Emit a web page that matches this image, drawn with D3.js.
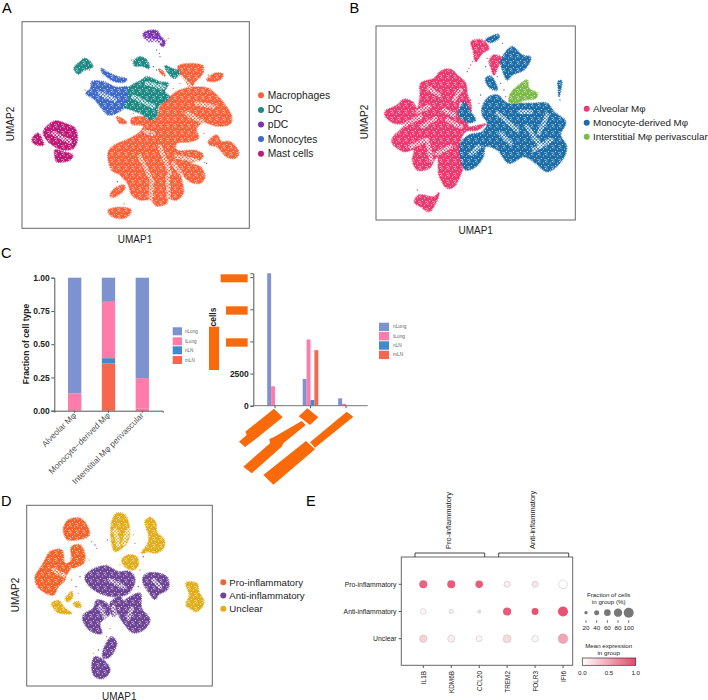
<!DOCTYPE html>
<html><head><meta charset="utf-8">
<script src="https://cdn.jsdelivr.net/npm/d3@7/dist/d3.min.js"></script>
<style>html,body{margin:0;padding:0;background:#fff}svg{display:block}text{font-family:"Liberation Sans",Arial,sans-serif}</style>
</head><body><svg id="c" width="708" height="700"></svg>
<script>
// ---- UMAP A: cluster outlines, in reading units
const macrophagesA=[
 [[535,198],[608,197],[607,222],[585,245],[570,268],[555,240],[540,225]],
 [[620,240],[645,220],[668,222],[665,235],[640,245]],
 [[575,262],[625,265],[650,285],[672,310],[695,350],[690,372],[650,378],[610,368],[590,385],[595,415],[570,425],[530,430],[530,450],[590,452],[610,465],[600,480],[570,490],[600,500],[615,530],[600,550],[570,545],[545,525],[550,580],[530,600],[505,598],[500,610],[470,618],[450,600],[420,600],[395,585],[385,555],[360,525],[335,510],[325,455],[345,435],[390,415],[420,395],[430,378],[395,372],[395,355],[440,350],[470,355],[480,320],[510,290],[535,272]],
 [[625,425],[650,405],[665,425],[690,425],[717,460],[705,475],[680,470],[650,440],[630,435]],
 [[330,585],[345,565],[370,555],[375,565],[355,585],[335,592]],
 [[325,630],[365,622],[393,630],[385,648],[362,656],[330,645]],
 [[350,350],[365,355],[380,368],[360,370]],
 [[476,206],[490,215],[495,228],[482,220]]];
const dcA=[
 [[222,205],[240,185],[255,175],[275,190],[278,200],[250,212],[235,222]],
 [[400,185],[420,170],[440,180],[448,205],[425,198],[405,198]],
 [[495,197],[515,205],[540,215],[525,235],[505,220]],
 [[385,265],[425,240],[440,230],[480,245],[505,250],[495,275],[510,292],[475,320],[470,350],[450,360],[430,345],[395,330],[370,320],[385,300]]];
const pdcA=[[[430,100],[445,92],[470,92],[483,110],[495,125],[490,140],[470,125],[445,125],[432,112]]];
const monocytesA=[
 [[305,205],[320,215],[355,230],[380,237],[375,245],[345,245],[320,230],[305,215]],
 [[275,245],[310,245],[350,262],[385,262],[385,300],[365,330],[325,345],[305,325],[285,300],[258,280],[272,265]]];
const mastA=[
 [[135,385],[165,363],[195,370],[225,385],[232,420],[220,445],[190,450],[165,440],[140,420],[130,400]],
 [[165,450],[190,455],[218,465],[210,480],[170,485],[165,470]],
 [[100,410],[115,400],[125,415],[130,435],[110,435],[97,425]]];
const gapsA=[[[455,540],[452,598]],[[503,530],[506,595]],[[520,490],[545,525]],[[530,470],[590,482]],[[420,470],[450,530]],[[480,440],[510,520]],[[590,310],[640,320]],[[560,340],[610,368]],[[435,395],[460,402]],[[400,290],[460,320]],[[440,250],[490,262]],[[300,280],[345,300]],[[160,400],[210,425]],[[440,120],[480,125]],[[540,230],[570,258]]];
const straysA=[[500,120],[480,170],[478,160],[505,115],[610,215],[625,225],[470,150],[620,490],[640,430],[612,400],[400,340],[345,340],[352,545],[372,612],[268,210],[395,180],[470,210],[460,200],[540,250],[520,265],[255,270],[450,400],[430,402],[615,488]];
const colorsA=["#F9623A","#1F8A84","#7B35B0","#3F6AC8","#C01A78"];
const labelsA=["Macrophages","DC","pDC","Monocytes","Mast cells"];

// ---- UMAP B
const alveolarB=[
 [[93,335],[130,315],[150,298],[175,305],[190,325],[198,285],[200,250],[240,235],[262,212],[290,208],[310,225],[335,250],[340,280],[352,320],[350,335],[320,305],[315,330],[340,370],[345,380],[395,372],[370,390],[335,395],[318,430],[330,480],[325,510],[300,560],[280,565],[255,525],[250,470],[225,505],[190,510],[175,480],[180,450],[150,455],[115,430],[115,415],[150,375],[120,370],[95,350]],
 [[352,125],[385,120],[405,145],[385,160],[365,185],[358,155]],
 [[405,185],[420,165],[450,178],[435,195],[420,225],[410,200]],
 [[182,600],[195,585],[240,590],[255,578],[245,610],[225,635],[200,620],[183,610]]];
const monoDerivedB=[
 [[385,320],[405,290],[430,285],[460,310],[500,310],[540,310],[580,310],[600,335],[635,365],[620,405],[638,440],[625,480],[580,515],[545,490],[510,470],[465,490],[430,450],[395,440],[388,470],[365,500],[335,510],[318,465],[320,430],[345,405],[385,395],[400,370],[385,345]],
 [[330,305],[350,335],[365,360],[345,368],[315,345],[318,325]],
 [[395,120],[432,103],[436,112],[410,128]],
 [[460,150],[475,140],[505,165],[530,172],[515,205],[500,215],[475,225],[460,240],[445,210],[440,185]],
 [[395,235],[410,228],[425,250],[430,270],[415,268],[400,255]],
 [[612,245],[622,242],[622,262],[615,290],[613,265]]];
const interstitialB=[[[470,280],[495,255],[520,240],[525,265],[550,280],[545,295],[515,300],[480,310],[465,305]]];
const gapsB=[[[225,265],[255,285]],[[190,335],[225,320]],[[205,380],[245,355]],[[150,375],[200,350]],[[220,420],[232,480]],[[170,440],[215,420]],[[280,360],[320,380]],[[270,330],[300,345]],[[250,460],[290,440]],[[500,335],[530,335]],[[520,380],[560,440]],[[440,400],[470,430]],[[580,345],[555,400]],[[352,460],[375,440]],[[300,300],[320,270]],[[430,340],[490,390]],[[590,420],[540,450]]];
const straysB=[[345,205],[340,215],[350,300],[450,270],[455,290],[380,285],[375,310],[440,250],[190,570],[430,230],[400,175],[618,300],[520,180],[395,200],[355,185],[445,130],[350,195]];
const colorsB=["#EC3A70","#1D6EA8","#7DBB47"];
const labelsB=["Alveolar Mφ","Monocyte-derived Mφ","Interstitial Mφ perivascular"];

// ---- UMAP D
const proD=[
 [[190,145],[205,120],[240,115],[260,135],[268,165],[240,178],[205,180],[195,170]],
 [[105,290],[120,265],[135,240],[150,215],[185,210],[195,250],[210,245],[215,200],[240,195],[255,225],[250,250],[220,265],[205,275],[195,300],[175,320],[160,345],[130,335],[110,315]]];
const antiD=[
 [[255,290],[285,265],[320,258],[355,275],[390,275],[405,300],[385,340],[340,350],[300,340],[265,315]],
 [[430,290],[450,278],[500,290],[505,325],[475,345],[465,358],[445,335],[430,310]],
 [[360,375],[420,340],[425,385],[450,420],[430,450],[400,458],[375,435],[355,400]],
 [[250,405],[280,385],[290,360],[320,370],[330,400],[300,430],[305,460],[275,455],[250,425]],
 [[330,370],[360,350],[370,370],[340,410]],
 [[310,510],[335,470],[350,490],[330,530],[310,535]],
 [[275,560],[285,530],[310,540],[330,570],[310,595],[285,590]]];
const unclearD=[
 [[335,125],[350,100],[375,105],[388,140],[385,180],[365,205],[345,215],[335,190]],
 [[435,125],[450,112],[468,130],[470,155],[493,180],[490,205],[465,220],[445,215],[425,220],[445,185],[445,160]],
 [[365,240],[385,225],[410,230],[415,255],[400,270],[375,260]],
 [[155,370],[175,362],[195,385],[215,400],[175,398],[165,390]],
 [[195,358],[215,335],[218,350],[205,365]],
 [[220,370],[235,365],[243,380],[230,382]],
 [[558,308],[590,310],[597,335],[612,368],[590,395],[570,385],[558,375],[568,345]]];
const gapsD=[[[215,270],[225,320]],[[160,270],[200,290]],[[200,200],[210,235]],[[385,150],[370,190]],[[395,385],[385,415]],[[300,380],[320,420]],[[340,380],[350,430]],[[330,300],[370,320]],[[460,300],[480,320]],[[345,150],[355,195]]];
const straysD=[[275,185],[285,195],[268,240],[290,205],[322,180],[400,165],[405,190],[430,230],[360,255],[320,255],[240,290],[235,340],[320,470],[295,510],[280,520],[215,300],[228,320],[440,150],[420,270],[415,320],[345,370],[330,445]];
const colorsD=["#F4632A","#6E4596","#E2AE1B"];
const labelsD=["Pro-inflammatory","Anti-inflammatory","Unclear"];

// ---- Panel C bars
const cellTypes=["Alveolar Mφ","Monocyte−derived Mφ","Interstitial Mφ perivascular"];
const tissues=["nLung","tLung","nLN","mLN"];
const tissueColors=["#7D92CF","#FF7BAA","#3F8BCB","#F9664F"];
const fracNLung=[0.87,0.175,0.755];
const fracTLung=[0.13,0.43,0.23];
const fracNLN=[0,0.04,0.005];
const fracMLN=[0,0.355,0.01];
const cntNLung=[10300,2080,570];
const cntTLung=[1510,5150,150];
const cntNLN=[30,440,10];
const cntMLN=[30,4320,20];
const fracTicks=[0,0.25,0.5,0.75,1];
const cntTicks=[0,2500,5000,7500,10000];
const cntTickLabels=["0","2500","","",""];
// orange cover blocks of the original figure, in crop reading units
const coverBlocks=[
 [[62,58],[143,58],[143,82],[62,82]],[[78,154],[143,154],[143,179],[78,179]],[[78,250],[143,250],[143,275],[78,275]],
 [[27,215],[57,215],[57,345],[27,345]],
 [[222,461],[248,487],[168,551],[135,576],[117,560],[140,540],[136,530]],
 [[322,460],[355,487],[330,510],[296,484]],
 [[305,498],[317,510],[250,565],[245,575],[155,655],[130,635],[210,565],[208,552],[222,546]],
 [[318,558],[345,583],[220,689],[190,660]],
 [[440,470],[460,485],[345,578],[330,562]]];

// ---- Panel E dotplot
const genes=["IL1B","KDM6B","CCL20","TREM2","FOLR3","IFI6"];
const groups=["Pro-inflammatory","Anti-inflammatory","Unclear"];
const fracPro=[76,76,70,55,52,85];
const fracAnti=[48,32,18,78,62,100];
const fracUnclear=[70,65,50,75,55,98];
const exprPro=[0.85,0.9,0.9,0.1,0.15,0];
const exprAnti=[0.05,0.1,0.2,0.9,0.95,0.95];
const exprUnclear=[0.25,0.1,0.05,0.2,0.05,0.5];
const sizeLegend=[20,40,60,80,100];
const colorLegend=[0,0.5,1];

const svg=d3.select("#c");
const defs=svg.append("defs");
const specks=defs.append("pattern").attr("id","speck").attr("width",7).attr("height",7).attr("patternUnits","userSpaceOnUse");
[[1,1],[4.5,2],[2.5,4.5],[6,5.5],[6.4,0.6],[0.6,6]].forEach(p=>specks.append("circle").attr("cx",p[0]).attr("cy",p[1]).attr("r",0.5).attr("fill","#fff"));
const heavy=defs.append("pattern").attr("id","heavy").attr("width",3.4).attr("height",3.4).attr("patternUnits","userSpaceOnUse");
[[0.9,0.9],[2.6,2.5]].forEach(p=>heavy.append("circle").attr("cx",p[0]).attr("cy",p[1]).attr("r",0.95).attr("fill","#fff"));

const T=(g,x,y,s,o={})=>g.append("text").attr("x",x).attr("y",y).text(s).attr("font-size",o.size||10).attr("fill",o.fill||"#222").attr("font-weight",o.weight||null).attr("text-anchor",o.anchor||"start").attr("dominant-baseline",o.base||"auto").attr("transform",o.rot!=null?`rotate(${o.rot} ${x} ${y})`:null);

["A",2,12.7,"B",349.5,12.7,"C",1,257.7,"D",1,506,"E",306,506].forEach((d,i,a)=>{if(i%3==0)T(svg,a[i+1],a[i+2],d,{size:14.5,fill:"#000"})});

function umap(frame,dom,series,seriesColors,gaps,strays,strayColors,labels,legendColors,leg,ax){
 const g=svg.append("g");
 const x=d3.scaleLinear().domain(dom.x).range([frame.x0,frame.x1]);
 const y=d3.scaleLinear().domain(dom.y).range([frame.y0,frame.y1]);
 const line=d3.line().x(d=>x(d[0])).y(d=>y(d[1])).curve(d3.curveCatmullRomClosed.alpha(.5));
 series.forEach((regs,i)=>{
  g.selectAll(null).data(regs).join("path").attr("d",line).attr("fill",seriesColors[i]).attr("stroke",seriesColors[i]).attr("stroke-width",1.7).attr("stroke-dasharray","0.7 1");
 });
 series.forEach(regs=>g.selectAll(null).data(regs).join("path").attr("d",line).attr("fill","url(#speck)"));
 const open=d3.line().x(d=>x(d[0])).y(d=>y(d[1]));
 g.selectAll(null).data(gaps).join("path").attr("d",open).attr("stroke","url(#heavy)").attr("stroke-width",4.5).attr("stroke-linecap","round").attr("fill","none");
 g.selectAll(null).data(strays).join("circle").attr("cx",d=>x(d[0])).attr("cy",d=>y(d[1])).attr("r",.65).attr("fill",(d,i)=>strayColors[i%strayColors.length]);
 g.append("rect").attr("x",frame.x0).attr("y",frame.y0).attr("width",frame.x1-frame.x0).attr("height",frame.y1-frame.y0).attr("fill","none").attr("stroke","#666").attr("stroke-width",1);
 labels.forEach((s,i)=>{
  const ly=leg.y+i*leg.dy;
  g.append("circle").attr("cx",leg.cx).attr("cy",ly).attr("r",3).attr("fill",legendColors[i]);
  T(g,leg.tx,ly,s,{size:leg.size,base:"central"});
 });
 T(g,ax.x1,ax.y1,"UMAP1",{size:10,anchor:"middle",base:"central"});
 T(g,ax.x2,ax.y2,"UMAP2",{size:10,anchor:"middle",base:"central",rot:-90});
}
umap({x0:22,x1:249.3,y0:21.7,y1:228.3},{x:[66,748],y:[65,685]},[macrophagesA,monocytesA,dcA,pdcA,mastA],[colorsA[0],colorsA[3],colorsA[1],colorsA[2],colorsA[4]],gapsA,straysA,[colorsA[0],colorsA[1],colorsA[2],colorsA[0],colorsA[0]],labelsA,colorsA,{cx:261,tx:267.7,y:95.3,dy:14.6,size:10.3},{x1:135,y1:239.5,x2:10,y2:124});
umap({x0:376,x1:575.3,y0:26,y1:220},{x:[66,664],y:[78,660]},[alveolarB,monoDerivedB,interstitialB],colorsB,gapsB,straysB,[colorsB[0],colorsB[1]],labelsB,colorsB,{cx:586.7,tx:593,y:108.7,dy:14,size:9.8},{x1:475.7,y1:230.7,x2:364,y2:122});
umap({x0:26.7,x1:212.3,y0:505.3,y1:686},{x:[80,637],y:[76,618]},[antiD,proD,unclearD],[colorsD[1],colorsD[0],colorsD[2]],gapsD,straysD,[colorsD[0],colorsD[1],colorsD[2]],labelsD,colorsD,{cx:223.3,tx:229.3,y:582.3,dy:13.2,size:9.7},{x1:119.3,y1:696,x2:15.7,y2:595});

// ---- C left: stacked fractions
(function(){
 const g=svg.append("g");
 const x=d3.scaleBand().domain(cellTypes).range([54.3,162.7]).paddingInner(.606).paddingOuter(.406);
 const y=d3.scaleLinear().domain([0,1]).range([410.7,277.7]);
 const rows=cellTypes.map((c,i)=>({c,mLN:fracMLN[i],nLN:fracNLN[i],tLung:fracTLung[i],nLung:fracNLung[i]}));
 const st=d3.stack().keys(["mLN","nLN","tLung","nLung"])(rows);
 st.forEach(s=>g.selectAll(null).data(s).join("rect").attr("x",d=>x(d.data.c)).attr("width",x.bandwidth()).attr("y",d=>y(d[1])).attr("height",d=>y(d[0])-y(d[1])).attr("fill",tissueColors[tissues.indexOf(s.key)]));
 const ay=g.append("g").attr("transform","translate(54.3,0)").call(d3.axisLeft(y).tickValues(fracTicks).tickFormat(d3.format(".2f")).tickSize(3).tickPadding(1.5));
 ay.selectAll("text").attr("font-size",8.5).attr("font-weight","bold").attr("fill","#222").style("font-family",'"Liberation Sans"');
 ay.selectAll("path,line").attr("stroke","#555");
 const ax=g.append("g").attr("transform","translate(0,410.7)").call(d3.axisBottom(x).tickSize(2).tickFormat(""));
 ax.selectAll("path,line").attr("stroke","#555");
 cellTypes.forEach(c=>T(g,x(c)+x.bandwidth()/2+2,416,c,{size:8.3,fill:"#555",anchor:"end",rot:-45}));
 T(g,26,344,"Fraction of cell type",{size:8.5,weight:"bold",anchor:"middle",base:"central",rot:-90});
 tissues.forEach((t,i)=>{
  const yy=[327.3,337.3,346.3,356][i];
  g.append("rect").attr("x",172.7).attr("y",yy).attr("width",9.3).attr("height",8).attr("fill",tissueColors[i]);
  T(g,185,yy+4,t,{size:4.6,fill:"#666",base:"central"});
 });
})();

// ---- C right: counts
(function(){
 const g=svg.append("g");
 const x0=d3.scalePoint().domain(cellTypes).range([275,346]);
 const x1=d3.scaleBand().domain(tissues).range([-7.8,7.8]);
 const y=d3.scaleLinear().domain([0,10300]).range([405.7,273.3]);
 const vals=[cntNLung,cntTLung,cntNLN,cntMLN];
 tissues.forEach((t,k)=>g.selectAll(null).data(vals[k]).join("rect").attr("x",(d,i)=>x0(cellTypes[i])+x1(t)).attr("width",x1.bandwidth()).attr("y",d=>y(d)).attr("height",d=>y(0)-y(d)).attr("fill",tissueColors[k]));
 const ay=g.append("g").attr("transform","translate(253.3,0)").call(d3.axisLeft(y).tickValues(cntTicks).tickFormat((d,i)=>cntTickLabels[i]).tickSize(3).tickPadding(1.5));
 ay.selectAll("text").attr("font-size",8.5).attr("font-weight","bold").attr("fill","#222").style("font-family",'"Liberation Sans"');
 ay.selectAll("path,line").attr("stroke","#555");
 g.append("line").attr("x1",253.3).attr("x2",367.7).attr("y1",y(0)).attr("y2",y(0)).attr("stroke","#777");
 x0.domain().forEach(c=>g.append("line").attr("x1",x0(c)).attr("x2",x0(c)).attr("y1",y(0)).attr("y2",y(0)+2.5).attr("stroke","#555"));
 T(g,213,317,"cells",{size:8.5,weight:"bold",base:"central",anchor:"middle",rot:-90});
 tissues.forEach((t,i)=>{
  const yy=[322.7,332,341.3,350.7][i];
  g.append("rect").attr("x",379).attr("y",yy).attr("width",10).attr("height",8.4).attr("fill",tissueColors[i]);
  T(g,393,yy+4.2,t,{size:4.8,fill:"#666",base:"central"});
 });
 const bx=d3.scaleLinear().domain([0,230]).range([200,276.67]),by=d3.scaleLinear().domain([0,240]).range([255,335]);
 g.selectAll(null).data(coverBlocks).join("path").attr("d",d3.line().x(d=>bx(d[0])).y(d=>by(d[1])).curve(d3.curveLinearClosed)).attr("fill","#FA6A0A");
})();

// ---- E dotplot
(function(){
 const g=svg.append("g");
 const x=d3.scalePoint().domain(genes).range([423.3,563]);
 const y=d3.scalePoint().domain(groups).range([584.3,638.7]);
 const r=d3.scaleLinear().domain([20,100]).range([1.67,5]);
 const col=d3.scaleLinear().domain([0,1]).range(["#ffffff","#E8486A"]);
 const fr=[fracPro,fracAnti,fracUnclear],ex=[exprPro,exprAnti,exprUnclear];
 g.append("rect").attr("x",401.3).attr("y",557).attr("width",171.4).attr("height",108.3).attr("fill","none").attr("stroke","#666");
 groups.forEach((gr,j)=>{
  g.selectAll(null).data(genes).join("circle").attr("cx",d=>x(d)).attr("cy",y(gr)).attr("r",(d,i)=>r(fr[j][i])).attr("fill",(d,i)=>col(ex[j][i])).attr("stroke","#bbb").attr("stroke-width",(d,i)=>ex[j][i]>.7?0:.5);
  g.append("line").attr("x1",398.7).attr("x2",401.3).attr("y1",y(gr)).attr("y2",y(gr)).attr("stroke","#555");
  T(g,396.5,y(gr),gr,{size:6.8,anchor:"end",base:"central"});
 });
 genes.forEach(d=>{
  g.append("line").attr("x1",x(d)).attr("x2",x(d)).attr("y1",665.3).attr("y2",668).attr("stroke","#555");
  T(g,x(d),671,d,{size:6.4,anchor:"end",base:"central",rot:-90});
 });
 [[415,484.7,"Pro-inflammatory"],[498.7,568.7,"Anti-inflammatory"]].forEach(b=>{
  const mid=(b[0]+b[1])/2;
  g.append("path").attr("d",d3.line()([[b[0],557],[b[0],553],[b[1],553],[b[1],557]])).attr("fill","none").attr("stroke","#333").attr("stroke-width",.9);
  T(g,mid-1.5,549,b[2],{size:7.5,rot:-90,base:"central"});
 });
 T(g,608.7,594,"Fraction of cells",{size:6.2,anchor:"middle",base:"central"});
 T(g,608.7,601.3,"in group (%)",{size:6.2,anchor:"middle",base:"central"});
 const sx=d3.scalePoint().domain(sizeLegend).range([586,628.7]);
 sizeLegend.forEach(s=>{
  g.append("circle").attr("cx",sx(s)).attr("cy",612.7).attr("r",r(s)).attr("fill","#777");
  g.append("line").attr("x1",sx(s)).attr("x2",sx(s)).attr("y1",620.3).attr("y2",622.7).attr("stroke","#666");
  T(g,sx(s),627.3,s,{size:6.2,anchor:"middle",base:"central"});
 });
 T(g,608.7,645,"Mean expression",{size:6.2,anchor:"middle",base:"central"});
 T(g,608.7,652,"in group",{size:6.2,anchor:"middle",base:"central"});
 const lg=defs.append("linearGradient").attr("id","cbar");
 lg.append("stop").attr("offset",0).attr("stop-color",col(0));
 lg.append("stop").attr("offset",1).attr("stop-color",col(1));
 const cx=d3.scaleLinear().domain([0,1]).range([582.3,635.7]);
 g.append("rect").attr("x",cx(0)).attr("y",658).attr("width",cx(1)-cx(0)).attr("height",7.3).attr("fill","url(#cbar)").attr("stroke","#333").attr("stroke-width",.7);
 colorLegend.forEach(v=>T(g,cx(v),672.7,v.toFixed(1),{size:6.2,anchor:"middle",base:"central"}));
})();
</script></body></html>
